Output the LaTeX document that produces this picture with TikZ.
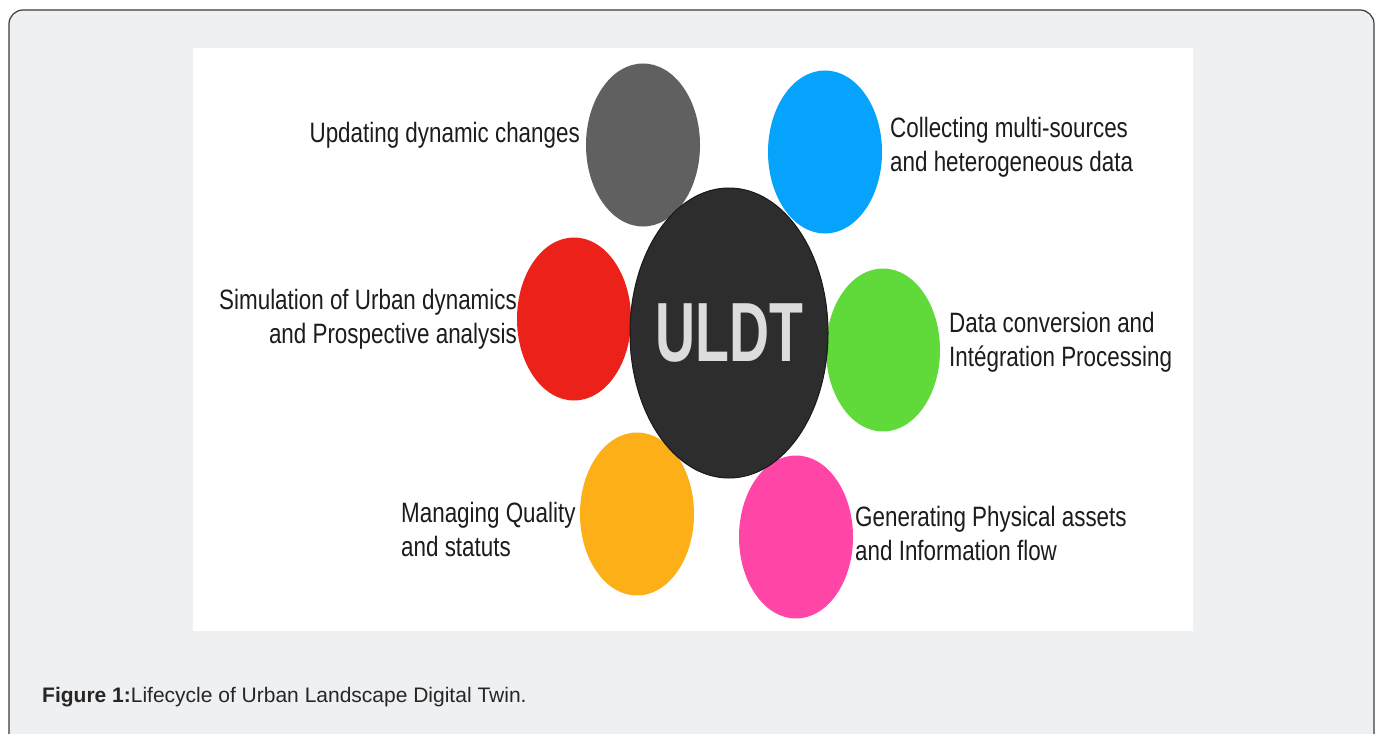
\documentclass[tikz,border=0pt]{standalone}
\usepackage{fontspec}
\setmainfont{Liberation Sans}
\newfontfamily\narrowsf{Liberation Sans}[FakeStretch=0.8]
\newfontfamily\hubsf{Liberation Sans}[FakeStretch=0.66]
\usepackage{tikz}
\usetikzlibrary{shapes,positioning}
\usepackage{xcolor}
\definecolor{pagebg}{RGB}{239,240,242}
\definecolor{framegray}{RGB}{60,60,60}
\definecolor{hubdark}{RGB}{45,45,45}
\definecolor{hubtext}{RGB}{220,220,220}
\definecolor{labeltext}{RGB}{28,28,28}
\definecolor{stgray}{RGB}{96,96,96}
\definecolor{stblue}{RGB}{5,163,252}
\definecolor{stred}{RGB}{236,33,25}
\definecolor{stgreen}{RGB}{95,218,58}
\definecolor{storange}{RGB}{252,175,23}
\definecolor{stpink}{RGB}{255,69,166}
\tikzstyle{stage} = [ellipse, inner sep=0pt, minimum width=114pt, minimum height=163pt]
\tikzstyle{stagetext} = [inner sep=0pt, align=left, text=labeltext,
  font=\narrowsf\fontsize{28}{34}\selectfont]

\begin{document}
\begin{tikzpicture}[x=1pt, y=-1pt]
\useasboundingbox (0,0) rectangle (1380,733);
\clip (0,0) rectangle (1380,733);

% Frame and panel
\draw[fill=pagebg, draw=framegray, line width=1.2pt, rounded corners=14pt] (9,10) rectangle (1374,750);
\fill[white] (193,48) rectangle (1193,631);

% Stages around the hub
\node[stage, fill=stgray] (update) at (643,145) {};
\node[stage, fill=stblue] (collect) at (825,152) {};
\node[stage, fill=stred] (simul) at (574,319) {};
\node[stage, fill=stgreen] (convert) at (883,350) {};
\node[stage, fill=storange] (quality) at (637,514) {};
\node[stage, fill=stpink] (generate) at (796,537) {};

% Hub
\node[ellipse, fill=hubdark, draw=black!90, line width=1pt, inner sep=0pt,
  minimum width=198pt, minimum height=290pt] (uldt) at (729,333) {};
\node[text=hubtext, font=\hubsf\bfseries\fontsize{84}{84}\selectfont] at (uldt) {ULDT};

% Stage labels
\node[stagetext, anchor=east] (updatetxt) at (580,135) {Updating dynamic changes};
\node[stagetext, anchor=west] (collecttxt) at (890,147) {Collecting multi-sources\\and heterogeneous data};
\node[stagetext, anchor=east, align=right] (simultxt) at (517,319) {Simulation of Urban dynamics\\and Prospective analysis};
\node[stagetext, anchor=west] (converttxt) at (949,342) {Data conversion and\\Int\'egration Processing};
\node[stagetext, anchor=west] (qualitytxt) at (401,529) {Managing Quality\\and statuts};
\node[stagetext, anchor=west] (generatetxt) at (855,533) {Generating Physical assets\\and Information flow};

% Caption
\node[anchor=base west, inner sep=0pt, text=black!85, font=\fontsize{21}{25}\selectfont] (caption) at (42,702)
  {\textbf{Figure 1:}Lifecycle of Urban Landscape Digital Twin.};
\end{tikzpicture}
\end{document}
